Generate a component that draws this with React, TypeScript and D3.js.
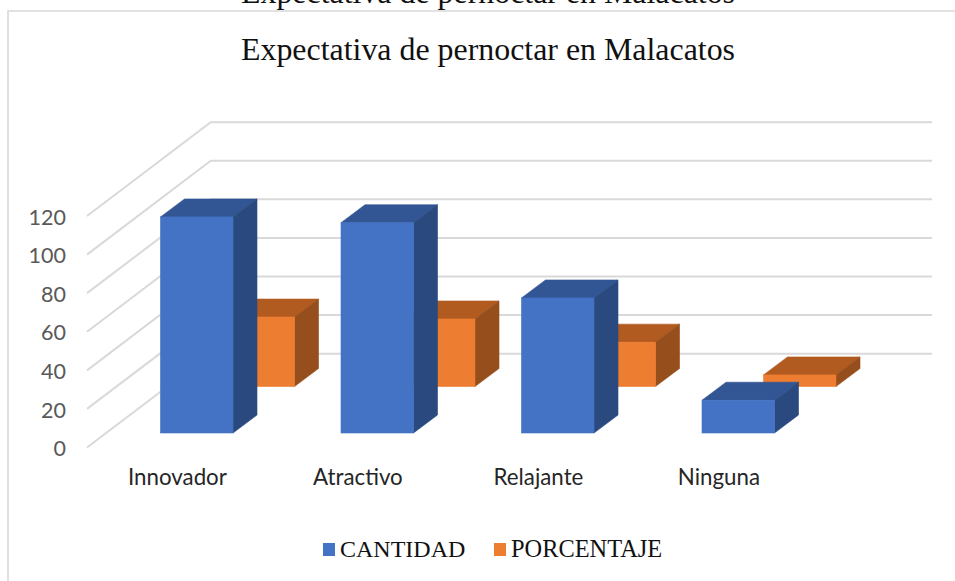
import React from "react";
import * as d3 from "d3";

const W = 955, H = 581;
const titleText = "Expectativa de pernoctar en Malacatos";
const categories = ["Innovador", "Atractivo", "Relajante", "Ninguna"];
const cantidad = [112, 109, 70, 17];
const porcentaje = [36, 35, 23, 6];
const ticks = [0, 20, 40, 60, 80, 100, 120];
const seriesNames = ["CANTIDAD", "PORCENTAJE"];

const sansFont = "Lato, 'Open Sans', sans-serif";
const serifFont = "'Liberation Serif', serif";

// front-wall vertical scale
const y = d3.scaleLinear().domain([0, 120]).range([447.5, 216]);
const x = d3.scaleBand().domain(categories).range([87, 809]).padding(0);
const wallDx = 123.7, wallDy = -93.8;
const h0 = y(0);
const band = x.bandwidth();
const barW = 72.5, depthX = 24, depthY = 18;

function Box({ left, base, height, front, side, top }: any) {
  const t = base - height, r = left + barW;
  const poly = (p: number[][]) => d3.line()(p as any)! + "Z";
  return (
    <g>
      <path d={poly([[left, t], [left + depthX, t - depthY], [r + depthX, t - depthY], [r, t]])} fill={top} stroke={top} strokeWidth={0.6} />
      <path d={poly([[r, t], [r + depthX, t - depthY], [r + depthX, base - depthY], [r, base]])} fill={side} stroke={side} strokeWidth={0.6} />
      <rect x={left} y={t} width={barW} height={height} fill={front} stroke={front} strokeWidth={0.6} />
    </g>
  );
}

export default function App() {
  const blueLeft = (c: string) => x(c)! + 73.5;
  const orangeLeft = (c: string) => x(c)! + 135;
  return (
    <svg width={W} height={H} style={{ position: "absolute", left: 0, top: 0, background: "#fff" }}>
      <path d="M955,11H8V581" fill="none" stroke="#d9d9d9" strokeWidth={1.6} />
      <text x={488} y={3} textAnchor="middle" fontFamily={serifFont} fontSize={31.9} fill="#111">{titleText}</text>
      <text x={488} y={59.5} textAnchor="middle" fontFamily={serifFont} fontSize={31.9} fill="#111">{titleText}</text>

      {ticks.map((t) => (
        <g key={t}>
          <path d={d3.line()([[87, y(t)], [87 + wallDx, y(t) + wallDy], [932, y(t) + wallDy]])!} fill="none" stroke="#d9d9d9" strokeWidth={2} />
          <text x={66} y={y(t) + 1} dy="0.36em" textAnchor="end" fontFamily={sansFont} fontSize={21.5} fill="#595959">{t}</text>
        </g>
      ))}

      {categories.map((c, i) => (
        <Box key={c + "o"} left={orangeLeft(c)} base={386.5} height={h0 - y(porcentaje[i])} front="#ed7d31" side="#964f1c" top="#b15b20" />
      ))}
      {categories.map((c, i) => (
        <Box key={c + "b"} left={blueLeft(c)} base={433} height={h0 - y(cantidad[i])} front="#4472c4" side="#2a4a7f" top="#325594" />
      ))}

      {categories.map((c) => (
        <text key={c} x={x(c)! + band / 2 + 0.2} y={485} textAnchor="middle" fontFamily={sansFont} fontSize={22.3} fill="#262626">{c}</text>
      ))}

      <rect x={323} y={543} width={12} height={13} fill="#4472c4" />
      <text x={340} y={557} fontFamily={serifFont} fontSize={24} fill="#111">{seriesNames[0]}</text>
      <rect x={494} y={543} width={12} height={13} fill="#ed7d31" />
      <text x={511} y={557} fontFamily={serifFont} fontSize={24.4} fill="#111">{seriesNames[1]}</text>
    </svg>
  );
}
